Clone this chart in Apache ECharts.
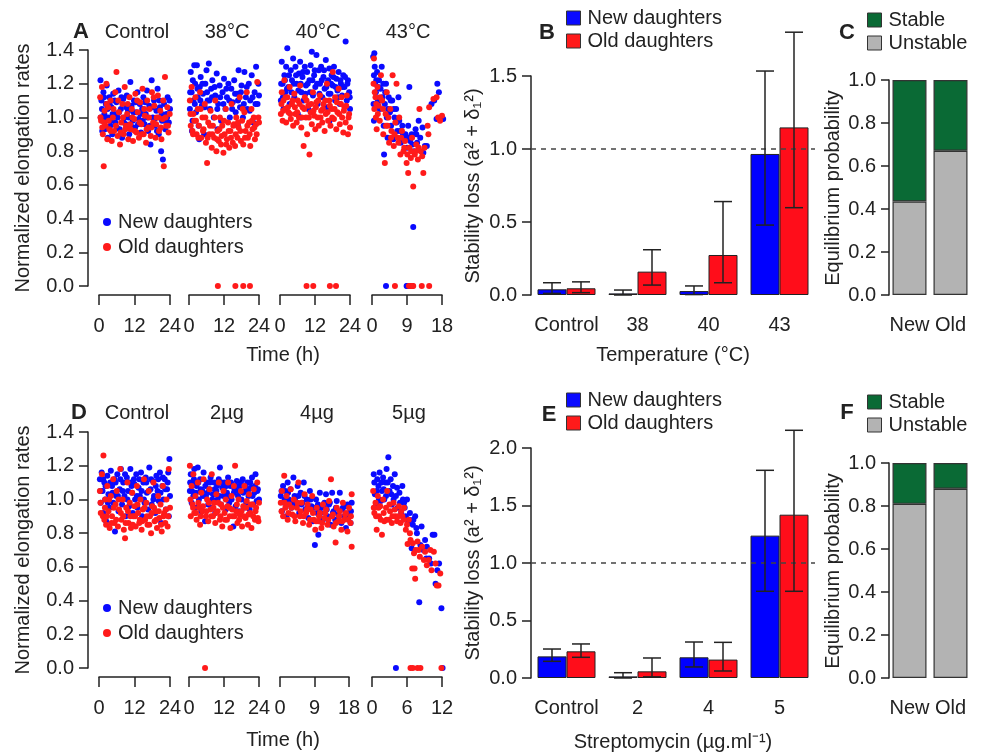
<!DOCTYPE html>
<html>
<head>
<meta charset="utf-8">
<script src="https://cdn.jsdelivr.net/npm/echarts@6/dist/echarts.min.js"></script>
<style>html,body{margin:0;padding:0;background:#fff}#c{width:984px;height:755px}</style>
</head>
<body>
<div id="c"></div>
<script>
// ---------- Panel A (temperature) scatter data: [time h, normalized rate] ----------
const A_ctrl_new = [[0.5,1.22],[0.8,1.1],[1.0,1.05],[1.2,0.98],[1.5,1.15],[1.8,1.02],[2.0,0.93],[2.3,1.08],[2.6,1.19],[3.0,0.88],[3.2,1.0],[3.5,1.12],[3.8,0.95],[4.2,1.06],[4.5,0.9],[4.8,1.14],[5.2,1.02],[5.5,0.97],[5.9,1.09],[6.3,1.0],[6.6,1.16],[7.0,0.93],[7.4,1.05],[7.8,0.88],[8.2,1.11],[8.6,1.0],[9.0,0.96],[9.4,1.13],[9.8,1.04],[10.2,0.9],[10.6,1.21],[11.0,1.07],[11.4,0.98],[11.8,1.1],[12.2,0.94],[12.6,1.03],[13.0,1.15],[13.4,0.99],[13.8,1.08],[14.2,0.91],[14.6,1.05],[15.0,1.12],[15.4,0.96],[15.8,1.02],[16.2,1.16],[16.6,0.92],[17.0,1.07],[17.4,0.84],[17.8,1.22],[18.2,1.0],[18.6,1.1],[19.0,0.95],[19.4,1.04],[19.8,1.17],[20.2,0.9],[20.6,1.06],[21.0,0.8],[21.3,0.98],[21.6,0.75],[22.0,1.08],[22.4,0.93],[22.8,1.02],[23.2,1.12],[23.6,0.97],[24.0,1.05],
 [0.6,1.0],[1.1,0.92],[1.7,1.12],[2.4,1.0],[2.9,1.05],[3.6,1.08],[4.0,0.98],[4.6,1.02],[5.3,1.1],[6.0,0.94],[6.8,1.03],[7.6,1.12],[8.4,0.97],[9.2,1.06],[10.0,1.0],[10.8,0.95],[11.6,1.03],[12.4,1.09],[13.2,0.96],[14.0,1.02],[14.8,0.98],[15.6,1.09],[16.4,1.0],[17.2,0.95],[18.0,1.06],[18.8,0.99],[19.6,0.92],[20.4,1.1],[21.2,1.02],[22.2,0.98],[23.0,1.0],[23.8,1.1]];
const A_ctrl_old = [[0.4,1.12],[0.7,0.98],[1.0,1.18],[1.3,0.9],[1.6,0.71],[1.9,1.04],[2.2,0.95],[2.5,1.2],[2.8,0.87],[3.1,1.06],[3.5,0.93],[3.9,1.1],[4.3,0.86],[4.7,1.0],[5.1,0.92],[5.5,1.15],[5.9,1.27],[6.3,0.89],[6.7,1.03],[7.1,0.84],[7.5,0.97],[7.9,1.08],[8.3,0.9],[8.7,1.18],[9.1,0.95],[9.5,1.02],[9.9,0.87],[10.3,1.12],[10.7,0.93],[11.1,1.05],[11.5,0.86],[11.9,0.99],[12.3,1.14],[12.7,0.91],[13.1,1.03],[13.5,0.88],[13.9,1.09],[14.3,0.96],[14.7,1.17],[15.1,0.9],[15.5,1.01],[15.9,0.85],[16.3,1.1],[16.7,0.94],[17.1,1.05],[17.5,0.89],[17.9,1.15],[18.3,0.97],[18.7,1.07],[19.1,0.88],[19.5,1.0],[19.9,1.13],[20.3,0.92],[20.7,1.04],[21.1,0.87],[21.5,0.99],[21.9,0.71],[22.3,1.24],[22.7,0.95],[23.1,1.06],[23.5,0.91],[23.9,1.02],
 [0.5,1.0],[1.1,0.94],[1.8,0.97],[2.6,1.08],[3.3,0.98],[4.0,0.92],[4.9,1.05],[5.7,0.95],[6.5,1.1],[7.3,0.91],[8.1,1.0],[8.9,0.93],[9.7,1.08],[10.5,0.96],[11.3,1.0],[12.1,0.92],[12.9,1.1],[13.7,0.97],[14.5,0.9],[15.3,1.05],[16.1,0.93],[16.9,1.0],[17.7,0.94],[18.5,1.12],[19.3,0.96],[20.1,1.0],[20.9,0.94],[21.7,1.1],[22.5,1.0],[23.3,0.95]];
const A_38_new = [[0.3,1.05],[0.6,1.27],[0.9,1.15],[1.2,0.98],[1.5,1.1],[1.8,1.31],[2.1,1.2],[2.4,1.03],[2.7,1.31],[3.0,1.12],[3.3,0.95],[3.7,1.18],[4.0,1.24],[4.4,1.07],[4.8,1.14],[5.2,0.9],[5.6,1.2],[6.0,1.28],[6.4,1.1],[6.8,1.32],[7.2,1.05],[7.6,1.17],[8.0,1.22],[8.5,1.0],[9.0,1.13],[9.5,1.26],[10.0,1.08],[10.5,1.19],[11.0,0.98],[11.5,1.15],[12.0,1.23],[12.5,1.05],[13.0,1.12],[13.5,1.2],[14.0,1.0],[14.5,1.17],[15.0,1.09],[15.5,1.22],[16.0,1.03],[16.5,1.14],[17.0,1.28],[17.5,1.06],[18.0,1.19],[18.5,1.0],[19.0,1.27],[19.5,1.12],[20.0,1.05],[20.5,1.2],[21.0,1.1],[21.5,1.25],[22.0,0.97],[22.5,1.15],[23.0,1.3],[23.5,1.08],[24.0,1.13],[1.0,0.92],[3.5,0.87],[9.8,0.93],[16.8,0.95],
 [0.4,1.15],[1.3,1.22],[2.0,1.08],[2.9,1.17],[3.9,1.1],[4.6,1.2],[5.4,1.06],[6.2,1.15],[7.0,1.1],[7.9,1.12],[8.8,1.18],[9.7,1.05],[10.7,1.12],[11.8,1.08],[12.8,1.17],[13.8,1.1],[14.8,1.05],[15.8,1.14],[16.8,1.1],[17.8,1.15],[18.8,1.08],[19.8,1.18],[20.8,1.04],[21.8,1.12],[22.8,1.08],[23.8,1.2]];
const A_38_old = [[0.3,1.1],[0.6,0.95],[0.9,1.18],[1.2,0.92],[1.5,1.02],[1.8,0.98],[2.2,1.12],[2.6,0.9],[3.0,1.05],[3.4,0.95],[3.8,1.15],[4.2,0.88],[4.6,1.0],[5.0,0.93],[5.4,1.08],[5.8,0.85],[6.2,0.73],[6.6,0.97],[7.0,0.9],[7.4,1.04],[7.8,0.82],[8.2,0.95],[8.6,0.88],[9.0,1.1],[9.4,0.8],[9.8,0.92],[10.2,0.86],[10.6,1.0],[11.0,0.84],[11.4,0.95],[11.8,0.79],[12.2,0.9],[12.6,1.05],[13.0,0.87],[13.4,0.97],[13.8,0.82],[14.2,0.92],[14.6,1.08],[15.0,0.85],[15.4,0.96],[15.8,0.83],[16.2,1.0],[16.6,0.88],[17.0,0.94],[17.4,1.12],[17.8,0.86],[18.2,0.98],[18.6,0.84],[19.0,1.03],[19.4,0.92],[19.8,1.15],[20.2,0.88],[20.6,0.97],[21.0,0.83],[21.4,1.05],[21.8,0.93],[22.2,1.0],[22.6,0.87],[23.0,0.96],[23.4,1.21],[23.8,1.0],[9.9,0],[15.9,0],[18.6,0],[20.9,0],
 [0.5,1.02],[1.4,0.9],[2.4,0.98],[3.2,0.88],[4.0,1.05],[4.8,0.92],[5.6,1.0],[6.4,0.88],[7.2,0.95],[8.0,0.9],[8.8,1.0],[9.6,0.87],[10.4,0.93],[11.2,0.89],[12.0,0.98],[12.8,0.84],[13.6,0.92],[14.4,0.88],[15.2,0.95],[16.0,0.9],[16.8,0.97],[17.6,0.92],[18.4,1.05],[19.2,0.88],[20.0,0.95],[20.8,0.9],[21.6,0.98],[22.4,0.94],[23.2,0.9],[24.0,0.97]];
const A_40_new = [[0.3,1.1],[0.6,1.33],[0.9,1.2],[1.2,1.05],[1.5,1.25],[1.8,1.15],[2.1,1.3],[2.5,1.41],[2.9,1.18],[3.3,1.08],[3.7,1.28],[4.1,1.22],[4.5,1.35],[4.9,1.12],[5.3,1.3],[5.7,1.2],[6.1,1.02],[6.5,1.26],[6.9,1.33],[7.3,1.15],[7.7,1.24],[8.1,1.1],[8.5,1.3],[8.9,1.19],[9.3,1.27],[9.7,1.05],[10.1,1.22],[10.5,1.31],[10.9,1.39],[11.3,1.13],[11.7,1.25],[12.1,1.18],[12.5,1.37],[12.9,1.08],[13.3,1.28],[13.7,1.2],[14.1,1.3],[14.5,1.12],[14.9,1.24],[15.3,1.17],[15.7,1.34],[16.1,1.06],[16.5,1.22],[16.9,1.29],[17.3,1.14],[17.7,1.25],[18.1,1.19],[18.5,1.3],[18.9,1.1],[19.3,1.23],[19.7,1.16],[20.1,1.27],[20.5,1.08],[20.9,1.2],[21.3,1.13],[21.7,1.25],[22.1,1.18],[22.5,1.45],[22.9,1.1],[23.3,1.22],[23.7,1.15],[24.0,1.05],[7.0,1.0],[17.0,0.98],
 [0.4,1.2],[1.0,1.12],[1.7,1.22],[2.4,1.17],[3.1,1.25],[3.9,1.15],[4.7,1.2],[5.5,1.25],[6.3,1.16],[7.1,1.2],[7.9,1.27],[8.7,1.14],[9.5,1.2],[10.3,1.15],[11.1,1.22],[11.9,1.28],[12.7,1.2],[13.5,1.14],[14.3,1.22],[15.1,1.28],[15.9,1.18],[16.7,1.14],[17.5,1.2],[18.3,1.24],[19.1,1.18],[19.9,1.12],[20.7,1.22],[21.5,1.18],[22.3,1.24],[23.1,1.2],[23.9,1.12]];
const A_40_old = [[0.3,1.02],[0.6,1.15],[0.9,0.98],[1.2,1.1],[1.5,1.22],[1.8,1.05],[2.1,0.97],[2.5,1.12],[2.9,1.03],[3.3,1.18],[3.7,0.99],[4.1,1.08],[4.5,0.95],[4.9,1.14],[5.3,1.02],[5.7,0.97],[6.1,1.1],[6.5,1.0],[6.9,1.19],[7.3,0.94],[7.7,1.06],[8.1,0.83],[8.5,1.12],[8.9,1.0],[9.3,0.9],[9.7,1.07],[10.1,0.78],[10.5,1.03],[10.9,0.96],[11.3,1.15],[11.7,1.01],[12.1,0.93],[12.5,1.09],[12.9,1.0],[13.3,0.95],[13.7,1.13],[14.1,1.04],[14.5,0.97],[14.9,1.08],[15.3,0.92],[15.7,1.02],[16.1,1.2],[16.5,0.98],[16.9,1.1],[17.3,0.95],[17.7,1.05],[18.1,1.27],[18.5,0.99],[18.9,1.12],[19.3,0.93],[19.7,1.03],[20.1,1.17],[20.5,0.96],[20.9,1.08],[21.3,1.0],[21.7,0.91],[22.1,1.06],[22.5,0.97],[22.9,1.13],[23.3,0.9],[23.7,1.02],[24.0,0.94],[9.1,0],[11.4,0],[17.1,0],[19.2,0],
 [0.5,1.08],[1.1,1.04],[1.9,1.12],[2.7,1.06],[3.5,1.02],[4.3,1.1],[5.1,1.06],[5.9,1.03],[6.7,1.08],[7.5,1.0],[8.3,1.05],[9.1,1.1],[9.9,1.0],[10.7,1.08],[11.5,1.04],[12.3,1.06],[13.1,1.1],[13.9,1.0],[14.7,1.05],[15.5,1.1],[16.3,1.03],[17.1,1.07],[17.9,1.0],[18.7,1.05],[19.5,1.09],[20.3,1.02],[21.1,1.12],[21.9,1.04],[22.7,1.07],[23.5,1.0]];
const A_43_new = [[0.3,1.36],[0.6,1.38],[0.5,1.25],[0.8,1.2],[1.0,1.15],[0.4,1.08],[0.5,0.98],[1.3,1.27],[1.5,1.1],[1.8,1.22],[2.0,1.05],[2.2,1.17],[2.5,1.3],[2.7,1.12],[3.0,0.95],[3.1,0.78],[3.3,1.08],[3.6,1.2],[3.8,1.0],[4.0,0.88],[4.3,1.12],[4.6,1.03],[4.9,0.95],[5.2,1.1],[5.5,0.87],[5.8,1.0],[6.2,1.05],[6.5,0.92],[6.8,1.12],[7.0,0.98],[7.4,0.85],[7.8,0.95],[8.2,0.88],[8.6,0.9],[9.0,0.82],[9.3,0.95],[9.6,1.18],[9.8,0.86],[10.2,0.9],[10.6,0.35],[10.8,0.8],[11.2,0.93],[11.6,0.85],[12.0,0.98],[12.4,0.88],[13.0,0.94],[13.2,0.79],[13.6,0.83],[14.1,0.83],[15.3,1.08],[16.0,1.1],[16.6,0.99],[16.8,1.2],[17.2,1.15],[17.8,1.0],[18.3,0.99],[3.6,0],[8.9,0],[9.1,0],[10.3,0],
 [0.7,1.3],[1.1,1.22],[1.6,1.18],[2.3,1.1],[2.9,1.2],[3.4,1.15],[4.1,1.05],[4.8,1.1],[5.6,1.05],[6.3,0.97],[7.2,0.92],[8.0,0.9],[9.5,0.88],[10.4,0.84],[11.4,0.9]];
const A_43_old = [[0.5,1.35],[0.4,1.2],[0.6,1.05],[0.9,1.12],[1.2,0.93],[1.0,1.0],[1.4,1.18],[1.7,1.07],[2.0,0.98],[2.3,1.25],[2.6,1.1],[2.9,0.9],[3.3,0.73],[3.5,1.02],[3.8,1.15],[4.0,0.95],[4.4,0.85],[4.7,1.05],[5.0,0.92],[5.3,1.25],[5.6,0.83],[6.0,0.97],[6.3,1.2],[6.6,0.88],[7.0,1.0],[7.3,0.78],[7.7,0.92],[8.1,0.8],[8.5,0.86],[8.9,0.73],[9.3,0.67],[9.6,0.82],[10.0,0.76],[10.3,0.88],[10.6,0.59],[11.0,0.78],[11.4,0.84],[11.8,0.75],[12.2,1.05],[12.5,0.8],[12.9,0.77],[13.2,0.67],[13.5,0.82],[14.3,0.95],[14.5,0.9],[14.7,1.06],[15.8,1.11],[16.6,1.12],[17.0,1.0],[17.5,0.98],[18.0,1.01],[5.9,0],[9.5,0],[9.9,0],[10.3,0],[10.6,0],[12.8,0],[14.7,0],
 [0.7,1.15],[1.1,1.08],[1.5,1.02],[2.1,1.12],[2.8,1.05],[3.6,0.95],[4.2,1.0],[4.9,0.88],[5.8,0.9],[6.8,0.85],[7.5,0.88],[8.3,0.82],[9.1,0.78],[10.1,0.8],[11.2,0.8],[12.0,0.82]];

// ---------- Panel D (streptomycin) scatter data ----------
const D_ctrl_new = [[0.3,1.12],[0.6,0.98],[0.9,1.16],[1.2,1.05],[1.5,0.92],[1.8,1.1],[2.1,1.0],[2.4,0.87],[2.8,1.14],[3.2,1.03],[3.6,0.95],[4.0,1.17],[4.4,1.08],[4.8,0.98],[5.2,1.12],[5.4,0.81],[5.8,1.02],[6.2,1.15],[6.6,0.93],[7.0,1.06],[7.4,1.18],[7.8,0.97],[8.2,1.1],[8.6,1.02],[9.0,0.9],[9.4,1.13],[9.8,1.05],[10.2,0.96],[10.6,1.18],[11.0,1.08],[11.4,0.92],[11.8,1.12],[12.2,1.0],[12.6,1.15],[13.0,0.95],[13.4,1.07],[13.8,1.02],[14.2,1.16],[14.6,0.9],[15.0,1.1],[15.4,0.98],[15.8,1.13],[16.2,1.04],[16.6,0.94],[17.0,1.19],[17.4,1.06],[17.8,0.97],[18.2,1.11],[18.6,1.02],[19.0,0.92],[19.4,1.14],[19.8,1.05],[20.2,0.99],[20.6,1.16],[21.0,0.86],[21.4,1.08],[21.8,1.0],[22.2,1.12],[22.6,0.94],[23.0,1.06],[23.4,1.16],[23.8,1.24],[24.0,1.02],
 [0.5,1.05],[1.4,1.12],[2.2,1.08],[3.0,0.98],[3.8,1.1],[4.6,1.04],[5.6,1.1],[6.4,1.02],[7.2,1.12],[8.0,1.05],[8.8,1.15],[9.6,1.0],[10.4,1.1],[11.2,1.04],[12.0,1.09],[12.8,1.02],[13.6,1.12],[14.4,1.05],[15.2,1.0],[16.0,1.1],[16.8,1.05],[17.6,1.12],[18.4,1.0],[19.2,1.08],[20.0,1.12],[20.8,1.04],[21.6,1.13],[22.4,1.06],[23.2,1.1],[23.6,0.9]];
const D_ctrl_old = [[0.3,1.05],[0.6,0.92],[1.0,1.15],[1.5,1.26],[1.8,0.88],[2.1,1.0],[2.4,0.85],[2.8,1.08],[3.2,0.93],[3.6,0.83],[4.0,1.02],[4.4,0.9],[4.8,1.12],[5.2,0.86],[5.6,0.97],[6.0,1.05],[6.4,0.84],[6.8,0.94],[7.2,1.18],[7.6,0.88],[8.0,1.0],[8.4,0.82],[8.8,0.77],[9.2,0.95],[9.6,1.1],[10.0,0.86],[10.4,0.98],[10.8,0.83],[11.2,1.04],[11.6,0.9],[12.0,0.96],[12.4,0.84],[12.8,1.08],[13.2,0.92],[13.6,0.86],[14.0,1.0],[14.4,0.82],[14.8,0.94],[15.2,1.12],[15.6,0.88],[16.0,0.98],[16.4,0.85],[16.8,1.05],[17.2,0.9],[17.6,0.8],[18.0,0.96],[18.4,1.1],[18.8,0.87],[19.2,0.93],[19.6,0.83],[20.0,1.02],[20.4,0.89],[20.8,0.97],[21.2,0.81],[21.6,1.08],[22.0,0.92],[22.4,0.86],[22.8,1.0],[23.2,0.84],[23.6,1.18],[24.0,0.95],
 [0.5,0.98],[1.3,0.9],[2.0,0.95],[2.6,0.9],[3.4,1.0],[4.2,0.86],[5.0,0.95],[5.8,0.88],[6.6,1.0],[7.4,0.92],[8.2,0.9],[9.0,0.86],[9.8,0.93],[10.6,0.9],[11.4,0.85],[12.2,0.9],[13.0,0.97],[13.8,0.88],[14.6,0.87],[15.4,0.95],[16.2,0.9],[17.0,0.85],[17.8,0.92],[18.6,0.95],[19.4,0.88],[20.2,0.93],[21.0,0.85],[21.8,0.9],[22.6,0.94],[23.4,0.9]];
const D_2_new = [[0.3,1.05],[0.6,1.15],[0.9,0.98],[1.2,1.1],[1.5,1.02],[1.8,1.18],[2.2,0.95],[2.6,1.08],[3.0,1.19],[3.4,1.0],[3.8,1.12],[4.2,0.93],[4.6,1.05],[5.0,1.16],[5.5,0.87],[5.8,1.02],[6.2,1.1],[6.6,0.97],[7.0,1.06],[7.4,1.13],[7.8,0.95],[8.2,1.03],[8.6,1.1],[9.0,0.92],[9.4,1.05],[9.8,1.0],[10.2,1.12],[10.6,1.19],[11.0,0.97],[11.4,1.07],[11.8,1.02],[12.2,1.1],[12.6,0.94],[13.0,1.04],[13.4,1.13],[13.8,0.98],[14.2,1.08],[14.6,1.0],[15.2,0.84],[15.6,1.06],[16.0,0.96],[16.4,1.11],[16.8,1.02],[17.2,0.93],[17.6,1.08],[18.0,1.0],[18.4,1.12],[18.8,0.95],[19.2,1.05],[19.6,0.98],[20.0,1.1],[20.4,1.02],[20.8,0.94],[21.2,1.07],[21.6,1.13],[22.0,0.97],[22.4,1.04],[22.8,1.15],[23.2,0.99],[23.6,1.06],[24.0,1.0],
 [0.4,1.1],[1.0,1.05],[1.7,1.12],[2.4,1.04],[3.2,1.1],[4.0,1.06],[4.8,1.02],[5.6,1.08],[6.4,1.04],[7.2,1.1],[8.0,1.0],[8.8,1.06],[9.6,1.08],[10.4,1.02],[11.2,1.1],[12.0,1.05],[12.8,1.08],[13.6,1.02],[14.4,1.1],[15.4,1.04],[16.2,1.08],[17.0,1.05],[17.8,1.1],[18.6,1.04],[19.4,1.08],[20.2,1.05],[21.0,1.1],[21.8,1.02],[22.6,1.08],[23.4,1.05]];
const D_2_old = [[0.3,1.2],[0.6,0.9],[0.9,1.08],[1.2,0.97],[1.5,1.15],[1.8,0.92],[2.2,1.02],[2.6,0.88],[3.0,1.1],[3.4,0.95],[3.8,0.85],[4.2,1.04],[4.6,0.93],[5.0,1.12],[5.5,0],[5.8,0.9],[6.2,1.0],[6.6,0.87],[7.0,1.06],[7.4,0.94],[7.8,1.15],[8.2,0.9],[8.6,0.98],[9.0,0.86],[9.4,1.03],[9.8,0.93],[10.2,1.1],[10.6,0.88],[11.0,0.97],[11.4,0.84],[11.8,1.05],[12.2,0.92],[12.6,1.0],[13.0,0.88],[13.4,1.1],[13.8,0.95],[14.2,0.83],[14.6,1.02],[15.0,0.9],[15.4,1.08],[15.8,1.2],[16.2,0.93],[16.6,0.86],[17.0,1.0],[17.4,0.91],[17.8,1.05],[18.2,0.84],[18.6,0.96],[19.0,1.08],[19.4,0.89],[19.8,0.99],[20.2,0.85],[20.6,1.03],[21.0,0.92],[21.4,0.83],[21.8,0.97],[22.2,1.06],[22.6,0.88],[23.0,0.95],[23.4,1.1],[23.8,0.87],[24.0,0.98],
 [0.5,1.0],[1.4,0.95],[2.4,0.92],[3.2,0.98],[4.0,0.9],[4.8,0.96],[6.0,0.93],[6.8,0.98],[7.6,0.9],[8.4,0.95],[9.2,0.92],[10.0,0.98],[10.8,0.9],[11.6,0.95],[12.4,0.88],[13.2,0.96],[14.0,0.9],[14.8,0.94],[15.6,0.9],[16.4,0.97],[17.2,0.88],[18.0,0.93],[18.8,0.9],[19.6,0.95],[20.4,0.91],[21.2,0.97],[22.0,0.9],[22.8,0.93],[23.6,0.89]];
const D_4_new = [[0.2,1.02],[0.5,0.93],[0.8,1.08],[1.1,0.98],[1.4,1.05],[1.7,0.9],[2.0,1.1],[2.3,1.0],[2.7,1.06],[3.0,0.95],[3.5,1.13],[3.8,1.02],[4.2,0.97],[4.6,1.08],[5.0,0.92],[5.4,1.04],[5.8,0.98],[6.2,1.1],[6.6,0.94],[7.0,1.0],[7.4,0.89],[7.8,1.05],[8.2,0.96],[8.6,0.87],[9.1,0.73],[9.4,1.0],[9.7,0.92],[10.0,0.79],[10.4,1.04],[10.8,0.95],[11.2,0.88],[11.6,0.98],[12.0,1.03],[12.4,0.9],[12.8,0.97],[13.2,0.85],[13.6,1.04],[14.0,0.93],[14.4,0.88],[14.8,0.99],[15.2,0.91],[15.6,1.04],[16.0,0.86],[16.4,0.95],[16.8,0.9],[17.2,0.83],[17.6,0.97],[18.0,0.92],[18.4,0.86],[18.7,0.98],
 [0.4,1.05],[1.2,1.0],[2.1,1.04],[2.9,0.98],[3.9,1.0],[4.8,1.02],[5.6,0.97],[6.4,1.02],[7.2,0.96],[8.0,1.0],[8.9,0.95],[9.9,0.97],[10.6,0.92],[11.4,0.96],[12.2,0.94],[13.0,0.98],[13.8,0.92],[14.6,0.95],[15.4,0.9],[16.2,0.94],[17.0,0.96],[17.8,0.9],[18.5,0.93]];
const D_4_old = [[0.2,0.98],[0.5,1.05],[0.8,0.9],[1.1,1.14],[1.4,0.95],[1.7,1.02],[2.0,0.88],[2.4,0.97],[2.8,1.06],[3.2,0.91],[3.6,1.0],[4.0,0.87],[4.4,0.95],[4.8,1.1],[5.2,0.9],[5.6,0.98],[6.0,0.86],[6.4,1.03],[6.8,0.92],[7.2,0.97],[7.6,0.85],[8.0,0.94],[8.4,1.02],[8.8,0.88],[9.2,0.82],[9.6,0.95],[10.0,0.87],[10.4,0.92],[10.8,0.83],[11.2,0.97],[11.6,0.89],[12.0,0.94],[12.4,0.85],[12.8,0.99],[13.3,1.12],[13.6,0.9],[14.0,0.84],[14.5,0.745],[14.8,0.95],[15.2,0.87],[15.6,0.93],[16.0,0.82],[16.4,0.98],[16.8,0.88],[17.2,0.92],[17.6,0.81],[18.0,0.95],[18.4,0.86],[18.7,0.72],[18.7,1.03],
 [0.4,0.93],[1.2,0.98],[2.2,0.92],[3.0,0.95],[3.8,0.9],[4.6,0.98],[5.4,0.93],[6.2,0.9],[7.0,0.94],[7.8,0.88],[8.6,0.92],[9.4,0.87],[10.2,0.9],[11.0,0.86],[11.8,0.92],[12.6,0.88],[13.8,0.91],[14.6,0.86],[15.4,0.9],[16.2,0.87],[17.0,0.91],[17.8,0.88],[18.5,0.9]];
const D_5_new = [[0.3,1.15],[0.5,1.03],[0.7,0.97],[0.9,1.12],[1.1,1.08],[1.3,1.16],[1.5,0.99],[1.7,1.05],[1.9,1.13],[2.1,1.0],[2.3,1.1],[2.5,1.18],[2.8,1.25],[3.0,1.05],[3.2,1.12],[3.4,0.97],[3.6,1.08],[3.9,1.15],[4.1,1.02],[4.4,0.95],[4.7,1.04],[5.0,0.92],[5.2,1.08],[5.5,0.98],[5.8,0.9],[6.0,1.0],[6.2,0.86],[6.5,0.92],[6.8,0.71],[7.1,0.88],[7.4,0.9],[7.7,0.8],[8.1,0.39],[8.3,0.73],[8.5,0.84],[8.8,0.7],[9.1,0.76],[9.4,0.72],[9.8,0.65],[10.1,0.62],[10.4,0.79],[10.7,0.79],[10.9,0.5],[11.2,0.58],[11.5,0.62],[11.9,0.355],[4.1,0],[12.1,0],
 [0.4,1.1],[0.8,1.05],[1.2,1.0],[1.6,1.1],[2.0,1.06],[2.4,1.02],[2.7,1.1],[3.3,1.03],[3.7,1.0],[4.3,1.07],[4.8,0.98],[5.3,1.0],[5.6,0.95],[6.4,0.88],[7.0,0.85],[7.6,0.83],[9.3,0.65]];
const D_5_old = [[0.2,1.05],[0.4,0.92],[0.6,0.98],[0.8,0.82],[1.0,1.02],[1.2,0.9],[1.4,0.96],[1.7,0.79],[1.9,1.0],[2.1,0.87],[2.4,0.95],[2.6,1.05],[2.9,0.88],[3.1,0.93],[3.4,0.86],[3.7,0.98],[4.0,0.9],[4.3,0.87],[4.6,0.96],[4.9,0.86],[5.2,0.9],[5.5,0.95],[5.8,0.82],[6.1,0.735],[6.3,0.88],[6.6,0.76],[6.9,0.59],[7.2,0.68],[7.3,0.59],[7.5,0.7],[7.4,0.53],[7.8,0.75],[8.2,0.66],[8.6,0.72],[9.1,0.69],[9.4,0.61],[9.7,0.64],[10.0,0.7],[10.2,0.58],[10.6,0.69],[10.9,0.62],[11.1,0.49],[11.4,0.49],[11.7,0.56],[6.6,0],[7.0,0],[7.8,0],[8.3,0],[11.9,0],
 [0.3,0.95],[0.7,0.9],[1.1,0.95],[1.5,0.88],[2.0,0.92],[2.5,0.88],[3.0,0.97],[3.5,0.9],[3.9,0.94],[4.5,0.9],[5.0,0.93],[5.4,0.88],[6.0,0.85],[6.5,0.8],[7.0,0.74],[8.0,0.7],[8.9,0.64]];

// ---------- Panels B / E : stability loss bars with error bars ----------
const B_categories = ['Control', '38', '40', '43'];
const B_new = [0.039, 0.011, 0.027, 0.966];
const B_old = [0.046, 0.16, 0.274, 1.148];
const B_new_err = [[0.011, 0.084], [0.0, 0.034], [0.003, 0.062], [0.479, 1.534]];
const B_old_err = [[0.016, 0.09], [0.068, 0.31], [0.084, 0.64], [0.598, 1.80]];

const E_categories = ['Control', '2', '4', '5'];
const E_new = [0.188, 0.014, 0.18, 1.238];
const E_old = [0.232, 0.058, 0.16, 1.42];
const E_new_err = [[0.145, 0.252], [0.0, 0.046], [0.096, 0.313], [0.754, 1.806]];
const E_old_err = [[0.18, 0.296], [0.01, 0.174], [0.061, 0.31], [0.754, 2.154]];

// ---------- Panels C / F : equilibrium probability ----------
const C_categories = ['New', 'Old'];
const C_unstable = [0.435, 0.671];
const C_stable = [0.565, 0.329];
const F_unstable = [0.81, 0.88];
const F_stable = [0.19, 0.12];

// ---------- tick labels ----------
const A_ticks = ['0.0','0.2','0.4','0.6','0.8','1.0','1.2','1.4'];

const FONT = 'Liberation Sans, Arial, Helvetica, sans-serif';
const TXT = '#222';
const BLUE = '#0a0aff', RED = '#ff1a1a';
const BAR_BLUE = '#0000ff', BAR_RED = '#ff0d1a';
const GREEN = '#0a6a35', GRAY = '#b3b3b3';
const BAR_W = 29;
const FS = 20;

const chart = echarts.init(document.getElementById('c'));

const grids = [], xAxes = [], yAxes = [], series = [];
const axisLineStyle = { onZero: false, lineStyle: { color: TXT, width: 1.5 } };
const labelStyle = { color: TXT, fontSize: FS, fontFamily: FONT };

function addScatterRow(top, subs) {
  subs.forEach((s, k) => {
    const gi = grids.length;
    grids.push({ left: s.left, top: top, width: s.width, height: 236 });
    xAxes.push({
      gridIndex: gi, type: 'value', min: 0, max: s.max, interval: s.interval,
      offset: 9, axisLine: axisLineStyle,
      axisTick: { length: 10, lineStyle: { color: TXT, width: 1.5 } },
      axisLabel: Object.assign({ margin: 21 }, labelStyle),
      splitLine: { show: false }
    });
    yAxes.push({
      gridIndex: gi, type: 'value', min: 0, max: 1.4, interval: 0.2,
      show: k === 0, offset: 11,
      axisLine: Object.assign({ show: true }, axisLineStyle),
      axisTick: { show: true, length: 9, lineStyle: { color: TXT, width: 1.5 } },
      axisLabel: Object.assign({ margin: 14, formatter: v => A_ticks[Math.round(v / 0.2)] }, labelStyle),
      splitLine: { show: false }
    });
    series.push({ type: 'scatter', name: 'New daughters', xAxisIndex: gi, yAxisIndex: gi, data: s.n,
      symbolSize: 6, clip: false, itemStyle: { color: BLUE, opacity: 1 }, silent: true });
    series.push({ type: 'scatter', name: 'Old daughters', xAxisIndex: gi, yAxisIndex: gi, data: s.o,
      symbolSize: 6, clip: false, itemStyle: { color: RED, opacity: 1 }, silent: true });
  });
}

addScatterRow(50, [
  { left: 99, width: 71, max: 24, interval: 12, n: A_ctrl_new, o: A_ctrl_old },
  { left: 189, width: 70, max: 24, interval: 12, n: A_38_new, o: A_38_old },
  { left: 280, width: 70, max: 24, interval: 12, n: A_40_new, o: A_40_old },
  { left: 372, width: 70, max: 18, interval: 9, n: A_43_new, o: A_43_old }
]);
addScatterRow(432, [
  { left: 99, width: 71, max: 24, interval: 12, n: D_ctrl_new, o: D_ctrl_old },
  { left: 189, width: 70, max: 24, interval: 12, n: D_2_new, o: D_2_old },
  { left: 280, width: 69, max: 18, interval: 9, n: D_4_new, o: D_4_old },
  { left: 372, width: 70, max: 12, interval: 6, n: D_5_new, o: D_5_old }
]);

function errRender(params, api) {
  const idx = api.value(0), lo = api.value(1), hi = api.value(2), side = api.value(3);
  const t = api.coord([idx, hi]), b = api.coord([idx, lo]);
  const x = t[0] + side * BAR_W / 2, hw = 9;
  const st = { stroke: TXT, lineWidth: 1.5 };
  return { type: 'group', children: [
    { type: 'line', shape: { x1: x, y1: t[1], x2: x, y2: b[1] }, style: st },
    { type: 'line', shape: { x1: x - hw, y1: t[1], x2: x + hw, y2: t[1] }, style: st },
    { type: 'line', shape: { x1: x - hw, y1: b[1], x2: x + hw, y2: b[1] }, style: st }
  ]};
}

function addBarPanel(top, height, max, cats, nv, ov, ne, oe) {
  const gi = grids.length;
  grids.push({ left: 531, top: top, width: 284, height: height });
  xAxes.push({ gridIndex: gi, type: 'category', data: cats,
    axisLine: { show: false }, axisTick: { show: false },
    axisLabel: Object.assign({ margin: 20, interval: 0 }, labelStyle) });
  yAxes.push({ gridIndex: gi, type: 'value', min: 0, max: max, interval: 0.5,
    axisLine: Object.assign({ show: true }, axisLineStyle),
    axisTick: { show: true, length: 9, lineStyle: { color: TXT, width: 1.5 } },
    axisLabel: Object.assign({ margin: 14, formatter: v => v.toFixed(1) }, labelStyle),
    splitLine: { show: false } });
  const bs = { borderColor: TXT, borderWidth: 1 };
  series.push({ type: 'bar', name: 'New daughters', xAxisIndex: gi, yAxisIndex: gi, data: nv,
    barWidth: BAR_W, barGap: '0%', itemStyle: Object.assign({ color: BAR_BLUE }, bs), silent: true });
  series.push({ type: 'bar', name: 'Old daughters', xAxisIndex: gi, yAxisIndex: gi, data: ov,
    barWidth: BAR_W, barGap: '0%', itemStyle: Object.assign({ color: BAR_RED }, bs), silent: true,
    markLine: { silent: true, symbol: 'none', label: { show: false }, z: 5,
      lineStyle: { type: [5, 5], color: '#444', width: 1.5 }, data: [{ yAxis: 1 }] } });
  const ed = ne.map((e, i) => [i, e[0], e[1], -1]).concat(oe.map((e, i) => [i, e[0], e[1], 1]));
  series.push({ type: 'custom', name: 'err' + gi, xAxisIndex: gi, yAxisIndex: gi, data: ed,
    encode: { x: 0, y: [1, 2] }, renderItem: errRender, clip: false, silent: true, z: 6 });
}

addBarPanel(76, 219, 1.5, B_categories, B_new, B_old, B_new_err, B_old_err);
addBarPanel(448, 230, 2.0, E_categories, E_new, E_old, E_new_err, E_old_err);

function addProbPanel(top, uns, stb) {
  const gi = grids.length;
  grids.push({ left: 889, top: top, width: 82, height: 215 });
  xAxes.push({ gridIndex: gi, type: 'category', data: C_categories,
    axisLine: { show: false }, axisTick: { show: false },
    axisLabel: Object.assign({ margin: 20, interval: 0 }, labelStyle) });
  yAxes.push({ gridIndex: gi, type: 'value', min: 0, max: 1, interval: 0.2,
    axisLine: Object.assign({ show: true }, axisLineStyle),
    axisTick: { show: true, length: 8, lineStyle: { color: TXT, width: 1.5 } },
    axisLabel: Object.assign({ margin: 13, formatter: v => v.toFixed(1) }, labelStyle),
    splitLine: { show: false } });
  const bs = { borderColor: '#333', borderWidth: 1.2 };
  series.push({ type: 'bar', name: 'Unstable', stack: 'p' + gi, xAxisIndex: gi, yAxisIndex: gi, data: uns,
    barWidth: 34, itemStyle: Object.assign({ color: GRAY }, bs), silent: true });
  series.push({ type: 'bar', name: 'Stable', stack: 'p' + gi, xAxisIndex: gi, yAxisIndex: gi, data: stb,
    barWidth: 34, itemStyle: Object.assign({ color: GREEN }, bs), silent: true });
}
addProbPanel(80, C_unstable, C_stable);
addProbPanel(463, F_unstable, F_stable);

const legText = { fontSize: FS, color: TXT, fontFamily: FONT };
function dotLegend(top) {
  return { left: 103, top: top, padding: 0, orient: 'vertical', selectedMode: false, itemGap: 5,
    itemWidth: 8, itemHeight: 8, textStyle: Object.assign({ padding: [0, 0, 0, 2] }, legText),
    itemStyle: { opacity: 1 },
    data: [{ name: 'New daughters', icon: 'circle' }, { name: 'Old daughters', icon: 'circle' }] };
}
function sqLegend(left, top, names) {
  return { left: left, top: top, padding: 0, orient: 'vertical', selectedMode: false, itemGap: 3,
    itemWidth: 14, itemHeight: 14, textStyle: Object.assign({ padding: [0, 0, 0, 2] }, legText),
    itemStyle: { borderColor: '#333', borderWidth: 1, opacity: 1 },
    data: names.map(n => ({ name: n, icon: 'rect' })) };
}

function txt(x, y, s, opts) {
  return Object.assign({ type: 'text', x: x, y: y, silent: true,
    style: Object.assign({ text: s, fontSize: FS, fontFamily: FONT, fill: TXT, align: 'center', verticalAlign: 'middle' }, (opts && opts.style) || {}) },
    (opts && opts.rot) ? { rotation: Math.PI / 2 } : {});
}
const bold = { style: { fontWeight: 'bold', fontSize: 22 } };
const rot = { rot: true };

const graphics = [
  txt(81, 32, 'A', bold), txt(137, 32, 'Control'), txt(227, 32, '38°C'), txt(318, 32, '40°C'), txt(408, 32, '43°C'),
  txt(283, 355, 'Time (h)'), txt(23, 168, 'Normalized elongation rates', rot),
  txt(79, 413, 'D', bold), txt(137, 413, 'Control'), txt(227, 413, '2µg'), txt(317, 413, '4µg'), txt(409, 413, '5µg'),
  txt(283, 740, 'Time (h)'), txt(23, 550, 'Normalized elongation rates', rot),
  txt(547, 33, 'B', bold), txt(847, 33, 'C', bold), txt(549, 415, 'E', bold), txt(847, 413, 'F', bold),
  txt(673, 355, 'Temperature (°C)'), txt(673, 742, 'Streptomycin (µg.ml⁻¹)'),
  txt(473, 186, 'Stability loss (a² + δ₁²)', rot), txt(473, 563, 'Stability loss (a² + δ₁²)', rot),
  txt(833, 188, 'Equilibrium probability', rot), txt(833, 571, 'Equilibrium probability', rot)
];

chart.setOption({
  animation: false,
  textStyle: { fontFamily: FONT },
  grid: grids, xAxis: xAxes, yAxis: yAxes, series: series,
  legend: [
    dotLegend(212), dotLegend(598),
    sqLegend(566, 8, ['New daughters', 'Old daughters']),
    sqLegend(566, 390, ['New daughters', 'Old daughters']),
    sqLegend(867, 10, ['Stable', 'Unstable']),
    sqLegend(867, 392, ['Stable', 'Unstable'])
  ],
  graphic: graphics
});
</script>
</body>
</html>
